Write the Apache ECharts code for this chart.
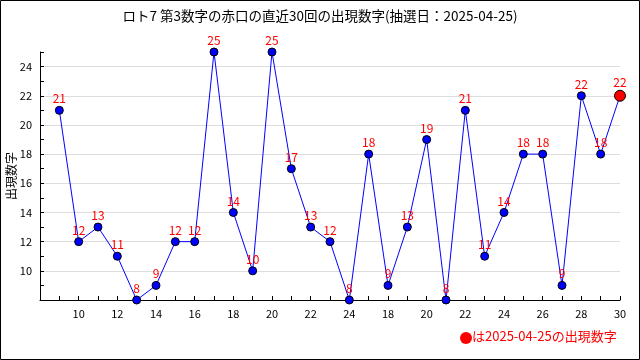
<!DOCTYPE html>
<html><head><meta charset="utf-8">
<script src="https://cdn.jsdelivr.net/npm/echarts@6/dist/echarts.min.js"></script>
<style>html,body{margin:0;padding:0;background:#fff}#c{width:640px;height:360px}</style>
</head><body><div id="c"></div>
<script>
const titleText = 'ロト7 第3数字の赤口の直近30回の出現数字(抽選日：2025-04-25)';
const yName = '出現数字';
const legendText = 'は2025-04-25の出現数字';
const positions = [1,2,3,4,5,6,7,8,9,10,11,12,13,14,15,16,17,18,19,20,21,22,23,24,25,26,27,28,29,30];
const values = [21,12,13,11,8,9,12,12,25,14,10,25,17,13,12,8,18,9,13,19,8,21,11,14,18,18,9,22,18,22];
const xTickLabels = {2:'10',4:'12',6:'14',8:'16',10:'18',12:'20',14:'22',16:'24',18:'18',20:'20',22:'22',24:'24',26:'26',28:'28',30:'30'};
const yLabels = [10,12,14,16,18,20,22,24];

const chart = echarts.init(document.getElementById('c'));
const FONT = '"Noto Sans CJK JP", sans-serif';
const last = positions.length - 1;
const data = positions.map((p, i) => {
  const d = {value: [p, values[i]]};
  if (i === last) {
    d.symbolSize = 11;
    d.itemStyle = {color: '#ff0000', borderColor: '#000', borderWidth: 1};
  }
  return d;
});
chart.setOption({
  animation: false,
  title: {text: titleText, left: 'center', top: 4,
    textStyle: {fontFamily: FONT, fontSize: 13.5, fontWeight: 'normal', color: '#000'}},
  grid: {left: 40, right: 20, top: 52, bottom: 60, containLabel: false, outerBoundsMode: 'none'},
  xAxis: {type: 'value', min: 0, max: 30, interval: 1,
    axisLine: {lineStyle: {color: '#000', width: 1}},
    axisTick: {inside: true, length: 4, lineStyle: {color: '#000'}},
    axisLabel: {color: '#000', fontSize: 11, margin: 8, fontFamily: FONT,
      formatter: v => xTickLabels[v] || ''},
    splitLine: {show: false}},
  yAxis: {type: 'value', min: 8, max: 25, interval: 1,
    name: yName, nameLocation: 'middle', nameGap: 23, nameRotate: 90, nameMoveOverlap: false,
    nameTextStyle: {fontFamily: FONT, fontSize: 12, color: '#000'},
    axisLine: {show: true, lineStyle: {color: '#000', width: 1}},
    axisTick: {show: true, inside: true, length: 4, lineStyle: {color: '#000'}},
    axisLabel: {color: '#000', fontSize: 11, margin: 8, fontFamily: FONT,
      formatter: v => yLabels.indexOf(v) >= 0 ? String(v) : ''},
    splitLine: {show: true, lineStyle: {color: ['#dddddd', 'rgba(0,0,0,0)'], width: 1}}},
  series: [{type: 'line', data: data, symbol: 'circle', symbolSize: 8,
    lineStyle: {color: '#0000ff', width: 1},
    itemStyle: {color: '#0000ff', borderColor: '#000', borderWidth: 1},
    label: {show: true, position: 'top', distance: 1, color: '#ff0000', fontSize: 12, fontFamily: FONT,
      formatter: p => String(p.value[1])}}],
  graphic: [
    {type: 'rect', shape: {x: 0.5, y: 0.5, width: 639, height: 359}, style: {fill: 'none', stroke: '#000', lineWidth: 1}},
    {type: 'circle', shape: {cx: 466, cy: 338, r: 6}, style: {fill: '#ff0000'}},
    {type: 'text', left: 472, top: 330, style: {text: legendText, fill: '#ff0000', fontSize: 13, fontFamily: FONT}}
  ]
});
</script></body></html>
